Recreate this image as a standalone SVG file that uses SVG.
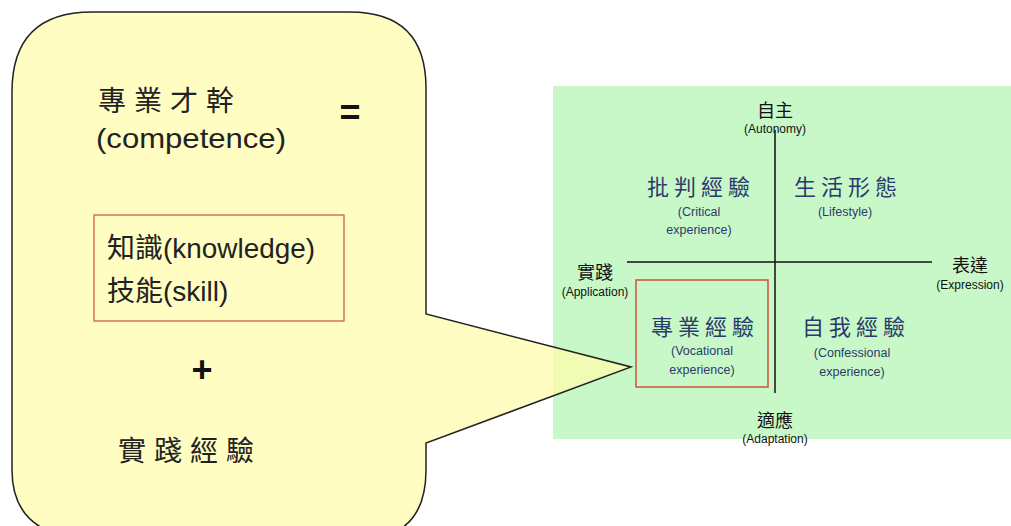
<svg xmlns="http://www.w3.org/2000/svg" width="1011" height="526" viewBox="0 0 1011 526">
<style>
.cjk{font-family:"Noto Sans CJK TC","Noto Sans CJK SC",sans-serif}
.lat{font-family:"Liberation Sans",Arial,sans-serif}
.big{font-size:28px;fill:#222}
.q{font-size:22px;fill:#2b3a6a;letter-spacing:5px}
.qs{font-size:12.5px;fill:#2b3a6a}
.ax{font-size:18px;fill:#111}
.axs{font-size:12px;fill:#111}
</style>
<rect width="1011" height="526" fill="#ffffff"/>
<g id="quadrant">
<rect x="553" y="86" width="458" height="353" fill="#c8f8c8"/>
<line x1="775" y1="130" x2="775" y2="393" stroke="#111" stroke-width="1.5"/>
<line x1="627" y1="262" x2="932" y2="262" stroke="#111" stroke-width="1.5"/>
<rect x="636" y="280" width="132" height="107" fill="none" stroke="#d0503c" stroke-width="1.5"/>
</g>
<g id="axis-labels" text-anchor="middle">
<text class="cjk ax" x="775" y="117">自主</text>
<text class="lat axs" x="775" y="133">(Autonomy)</text>
<text class="cjk ax" x="595" y="279">實踐</text>
<text class="lat axs" x="595" y="296">(Application)</text>
<text class="cjk ax" x="970" y="272">表達</text>
<text class="lat axs" x="970" y="289">(Expression)</text>
<text class="cjk ax" x="775" y="427">適應</text>
<text class="lat axs" x="775" y="443">(Adaptation)</text>
</g>
<g id="critical" text-anchor="middle">
<text class="cjk q" x="701" y="195">批判經驗</text>
<text class="lat qs" x="699" y="216">(Critical</text>
<text class="lat qs" x="699" y="234">experience)</text>
</g>
<g id="lifestyle" text-anchor="middle">
<text class="cjk q" x="848" y="195">生活形態</text>
<text class="lat qs" x="845" y="216">(Lifestyle)</text>
</g>
<g id="vocational" text-anchor="middle">
<text class="cjk q" x="705" y="335">專業經驗</text>
<text class="lat qs" x="702" y="355">(Vocational</text>
<text class="lat qs" x="702" y="374">experience)</text>
</g>
<g id="confessional" text-anchor="middle">
<text class="cjk q" x="856" y="335">自我經驗</text>
<text class="lat qs" x="852" y="357">(Confessional</text>
<text class="lat qs" x="852" y="376">experience)</text>
</g>
<g id="callout">
<path d="M92,12 H350 Q426,12 426,88 V314 L631,367 L426,443 V470 Q426,540 356,540 H100 Q12,540 12,470 V92 Q12,12 92,12 Z" fill="#fffcaa" fill-opacity="0.72" stroke="#222" stroke-width="1.5" stroke-linejoin="miter"/>
<text class="cjk big" x="98" y="111" style="letter-spacing:8px">專業才幹</text>
<text class="lat big" x="96" y="148" textLength="190" lengthAdjust="spacingAndGlyphs">(competence)</text>
<text class="lat" x="350" y="125" font-size="36" font-weight="bold" text-anchor="middle" fill="#111">=</text>
<rect x="94" y="215" width="250" height="106" fill="none" stroke="#c8604a" stroke-width="1.3"/>
<text class="cjk big" x="107" y="258">知識<tspan class="lat" textLength="152" lengthAdjust="spacingAndGlyphs">(knowledge)</tspan></text>
<text class="cjk big" x="107" y="301">技能<tspan class="lat">(skill)</tspan></text>
<text class="lat" x="202" y="382" font-size="36" font-weight="bold" text-anchor="middle" fill="#111">+</text>
<text class="cjk big" x="118" y="461" style="letter-spacing:8px">實踐經驗</text>
</g>
</svg>
